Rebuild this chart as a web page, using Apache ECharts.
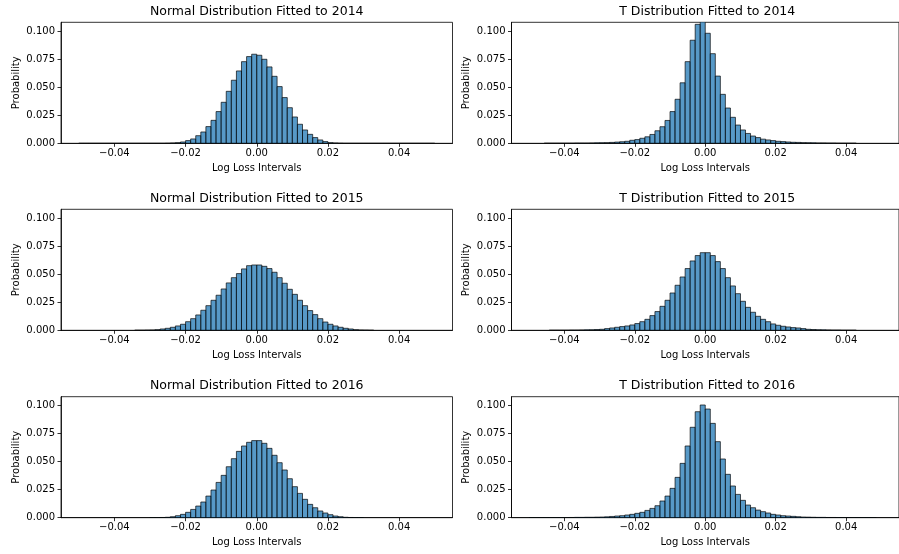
<!DOCTYPE html>
<html>
<head>
<meta charset="utf-8">
<script src="https://cdn.jsdelivr.net/npm/echarts@6/dist/echarts.min.js"></script>
<style>
html,body{margin:0;padding:0;background:#fff;}
#chart{width:899px;height:554px;}
</style>
</head>
<body>
<div id="chart"></div>
<script>
// Histogram bins: 70 equal bins spanning the range below
var binRangeMin = -0.05;
var binRangeMax = 0.05;
var binCount = 70;

// Probability per bin (first value belongs to bin index given by *Start)
var normal2014Start = 0;
var normal2014 = [0,0,0,0,0,0,0,0,0,0,0,0,0,0,0,0,0,
  0.0001,0.0003,0.0006,0.0012,0.0024,0.0039,0.0068,0.0101,0.0149,0.0205,0.0283,0.0366,0.0464,
  0.0563,0.0646,0.0729,0.0774,0.0795,0.0786,0.0750,0.0682,0.0598,0.0506,0.0408,0.0318,0.0235,
  0.0170,0.0119,0.0080,0.0051,0.0030,0.0015,0.0006,0.0003,0.0001,
  0,0,0,0,0,0,0,0,0,0,0,0,0,0,0,0,0,0];

var t2014Start = 3;
var t2014 = [0.0001,0.0001,0.0001,0.0001,0.0001,0.0001,0.0002,0.0002,0.0002,0.0003,0.0004,0.0005,
  0.0006,0.0008,0.0011,0.0014,0.0018,0.0027,0.0033,0.0045,0.0058,0.0079,0.0112,0.0148,0.0204,
  0.0283,0.0393,0.0540,0.0729,0.0920,0.1062,0.1090,0.0982,0.0800,0.0600,0.0437,0.0315,0.0232,
  0.0163,0.0119,0.0088,0.0065,0.0051,0.0037,0.0030,0.0024,0.0018,0.0015,0.0012,0.0009,0.0008,
  0.0006,0.0005,0.0004,0.0003,0.0003,0.0002,0.0002,0.0001,0.0001,0.0001,0.0001];

var normal2015Start = 11;
var normal2015 = [0.0001,0.0001,0.0002,0.0003,0.0006,0.0012,0.0018,0.0027,0.0039,0.0054,0.0077,
  0.0104,0.0137,0.0179,0.0220,0.0268,0.0313,0.0369,0.0423,0.0470,0.0506,0.0548,0.0577,0.0583,
  0.0583,0.0571,0.0551,0.0518,0.0470,0.0420,0.0366,0.0321,0.0268,0.0220,0.0176,0.0140,0.0104,
  0.0074,0.0054,0.0039,0.0027,0.0018,0.0012,0.0006,0.0003,0.0002,0.0001];

var t2015Start = 4;
var t2015 = [0.0001,0.0001,0.0001,0.0001,0.0002,0.0002,0.0003,0.0004,0.0005,0.0007,0.0009,0.0015,
  0.0021,0.0027,0.0033,0.0039,0.0048,0.0060,0.0077,0.0098,0.0131,0.0167,0.0214,0.0268,0.0333,
  0.0402,0.0476,0.0551,0.0619,0.0667,0.0693,0.0693,0.0667,0.0613,0.0551,0.0470,0.0396,0.0327,
  0.0259,0.0205,0.0161,0.0125,0.0098,0.0077,0.0057,0.0045,0.0036,0.0030,0.0024,0.0021,0.0015,
  0.0009,0.0007,0.0005,0.0004,0.0003,0.0002,0.0002,0.0001,0.0001,0.0001];

var normal2016Start = 14;
var normal2016 = [0.0001,0.0001,0.0002,0.0004,0.0009,0.0018,0.0030,0.0048,0.0074,0.0104,0.0140,
  0.0193,0.0247,0.0315,0.0378,0.0455,0.0527,0.0592,0.0640,0.0673,0.0688,0.0688,0.0664,0.0619,
  0.0557,0.0491,0.0426,0.0348,0.0277,0.0217,0.0164,0.0119,0.0089,0.0060,0.0042,0.0027,0.0015,
  0.0009,0.0004,0.0002,0.0001,0.0001];

var t2016Start = 0;
var t2016 = [0.0001,0.0001,0.0001,0.0001,0.0001,0.0001,0.0001,0.0001,0.0002,0.0003,0.0003,0.0004,
  0.0004,0.0005,0.0006,0.0008,0.0011,0.0015,0.0018,0.0024,0.0030,0.0039,0.0048,0.0065,0.0083,
  0.0107,0.0149,0.0193,0.0262,0.0360,0.0485,0.0640,0.0807,0.0946,0.1006,0.0970,0.0842,0.0679,
  0.0524,0.0387,0.0283,0.0208,0.0155,0.0113,0.0089,0.0068,0.0054,0.0042,0.0030,0.0024,0.0018,
  0.0015,0.0012,0.0009,0.0006,0.0005,0.0004,0.0003,0.0003,0.0002,0.0002,0.0001,0.0001,0.0001,
  0.0001,0.0001,0.0001,0.0001,0.0001];

var panelTitles = ['Normal Distribution Fitted to 2014','T Distribution Fitted to 2014',
  'Normal Distribution Fitted to 2015','T Distribution Fitted to 2015',
  'Normal Distribution Fitted to 2016','T Distribution Fitted to 2016'];
var panelSeries = [normal2014, t2014, normal2015, t2015, normal2016, t2016];
var panelStarts = [normal2014Start, t2014Start, normal2015Start, t2015Start, normal2016Start, t2016Start];

var xTicks = [-0.04, -0.02, 0, 0.02, 0.04];
var yTicks = [0, 0.025, 0.05, 0.075, 0.1];
var xLabel = 'Log Loss Intervals';
var yLabel = 'Probability';

var FONT = 'DejaVu Sans';
var binWidth = (binRangeMax - binRangeMin) / binCount;

function renderBar(params, api) {
  var x0 = api.value(0), x1 = api.value(1), v = api.value(2);
  var p0 = api.coord([x0, v]);
  var p1 = api.coord([x1, 0]);
  return {
    type: 'rect',
    shape: {x: p0[0], y: p0[1], width: p1[0] - p0[0], height: p1[1] - p0[1]},
    style: {fill: 'rgba(31,119,180,0.75)', stroke: 'rgba(0,0,0,0.75)', lineWidth: 0.9}
  };
}

var colLeft = [61, 511.5];
var rowTop = [22.3, 209.3, 396.7];
var gw = 391.5, gh = 121;

var grids = [], xAxes = [], yAxes = [], series = [], titles = [];
for (var i = 0; i < 6; i++) {
  var c = i % 2, r = Math.floor(i / 2);
  grids.push({left: colLeft[c], top: rowTop[r], width: gw, height: gh,
    show: true, borderColor: '#000', borderWidth: 0.8, backgroundColor: 'transparent'});
  titles.push({text: panelTitles[i], left: colLeft[c] + gw / 2, top: rowTop[r] - 17,
    textAlign: 'center', padding: 0,
    textStyle: {fontFamily: FONT, fontSize: 12.5, fontWeight: 'normal', color: '#000'}});
  xAxes.push({type: 'value', gridIndex: i, min: -0.055, max: 0.055,
    axisLine: {show: true, onZero: false, lineStyle: {color: '#000', width: 0.8}},
    axisTick: {show: true, customValues: xTicks, length: 3.5, lineStyle: {color: '#000', width: 0.8}},
    axisLabel: {customValues: xTicks, color: '#000', fontFamily: FONT, fontSize: 10, margin: 5,
      formatter: function (v) { return (v < -1e-9 ? '\u2212' : '') + Math.abs(v).toFixed(2); }},
    splitLine: {show: false},
    name: xLabel, nameLocation: 'middle', nameGap: 20,
    nameTextStyle: {fontFamily: FONT, fontSize: 10, color: '#000'}});
  yAxes.push({type: 'value', gridIndex: i, min: 0, max: 0.108,
    axisLine: {show: true, onZero: false, lineStyle: {color: '#000', width: 0.8}},
    axisTick: {show: true, customValues: yTicks, length: 3.5, lineStyle: {color: '#000', width: 0.8}},
    axisLabel: {customValues: yTicks, color: '#000', fontFamily: FONT, fontSize: 10, margin: 6,
      formatter: function (v) { return v.toFixed(3); }},
    splitLine: {show: false},
    name: yLabel, nameLocation: 'middle', nameGap: 40,
    nameTextStyle: {fontFamily: FONT, fontSize: 10, color: '#000'}});
  var vals = panelSeries[i], st = panelStarts[i], data = [];
  for (var k = 0; k < vals.length; k++) {
    var b = st + k;
    var x0 = binRangeMin + b * binWidth;
    data.push([x0, x0 + binWidth, vals[k]]);
  }
  series.push({type: 'custom', xAxisIndex: i, yAxisIndex: i, clip: true,
    renderItem: renderBar, data: data, encode: {x: [0, 1], y: 2}, silent: true});
}

var chart = echarts.init(document.getElementById('chart'), null, {renderer: 'canvas'});
chart.setOption({
  animation: false,
  backgroundColor: '#fff',
  title: titles,
  grid: grids,
  xAxis: xAxes,
  yAxis: yAxes,
  series: series
});
</script>
</body>
</html>
